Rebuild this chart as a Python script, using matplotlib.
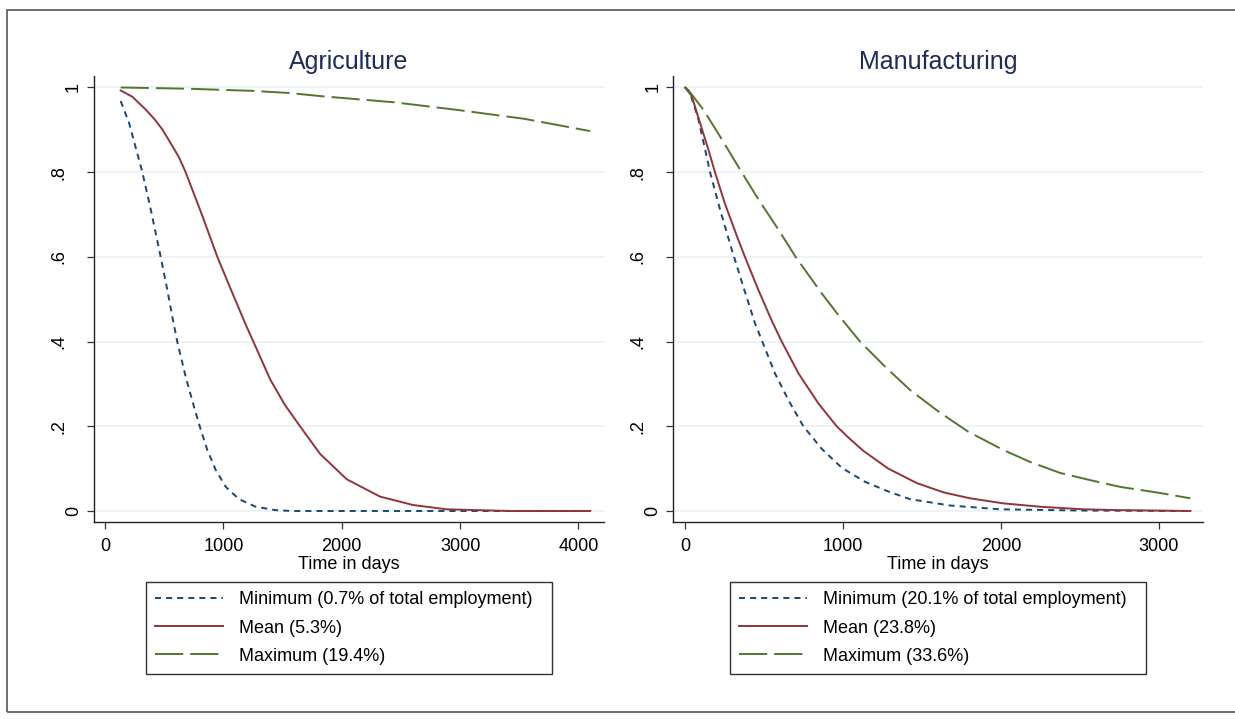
import matplotlib
matplotlib.use("Agg")
import matplotlib.pyplot as plt
from matplotlib.patches import Rectangle

plt.rcParams['font.family'] = ['Liberation Sans', 'DejaVu Sans']

# Agriculture panel
agr_min_x = [131, 201, 314, 385, 469, 525, 567, 609, 680, 751, 799, 863, 934, 1019, 1131, 1272, 1441, 1582, 2000, 3000, 4100]
agr_min_y = [.968, .917, .8, .712, .6, .522, .459, .4, .317, .246, .2, .144, .097, .057, .028, .010, .002, 0, 0, 0, 0]
agr_mean_x = [131, 230, 342, 420, 483, 550, 624, 680, 821, 948, 1055, 1188, 1252, 1396, 1520, 1647, 1816, 2041, 2323, 2604, 2887, 3422, 4100]
agr_mean_y = [.993, .978, .948, .924, .901, .87, .835, .8, .697, .6, .528, .44, .4, .31, .25, .2, .135, .075, .034, .014, .004, 0, 0]
agr_max_x = [131, 710, 1243, 1554, 1843, 2443, 2977, 3543, 4100]
agr_max_y = [1.0, .997, .992, .987, .979, .965, .947, .926, .897]

# Manufacturing panel
man_min_x = [0, 31, 84, 126, 158, 221, 295, 375, 443, 489, 569, 654, 749, 865, 992, 1139, 1287, 1424, 1677, 1994, 2522, 3200]
man_min_y = [1, .988, .925, .855, .8, .712, .618, .522, .443, .4, .325, .262, .2, .147, .102, .069, .046, .028, .013, .004, .001, 0]
man_mean_x = [0, 42, 94, 147, 189, 253, 327, 379, 464, 548, 612, 718, 844, 960, 1044, 1129, 1287, 1467, 1636, 1804, 2016, 2250, 2522, 2754, 3200]
man_mean_y = [1, .980, .917, .854, .8, .725, .65, .6, .522, .45, .4, .325, .254, .2, .17, .142, .1, .066, .044, .030, .018, .010, .004, .002, 0]
man_max_x = [0, 20, 115, 232, 358, 464, 590, 700, 865, 970, 1108, 1266, 1424, 1604, 1794, 2016, 2184, 2374, 2564, 2754, 3000, 3200]
man_max_y = [1, .994, .948, .878, .8, .736, .665, .6, .514, .463, .4, .341, .286, .235, .187, .144, .116, .090, .073, .057, .043, .03]

titles = ["Agriculture", "Manufacturing"]
labels_agr = ["Minimum (0.7% of total employment)", "Mean (5.3%)", "Maximum (19.4%)"]
labels_man = ["Minimum (20.1% of total employment)", "Mean (23.8%)", "Maximum (33.6%)"]
yticks = [0, .2, .4, .6, .8, 1]
ytick_labels = ["0", ".2", ".4", ".6", ".8", "1"]

BLUE = '#1a476f'
RED = '#90353b'
GREEN = '#55752f'
GRID = '#eaf2f3'

W, H = 1235, 719
fig = plt.figure(figsize=(W / 100, H / 100), dpi=100)
fig.patch.set_facecolor('white')

# outer frame (right side runs off the image)
fig.patches.append(Rectangle((6.7 / W, 1 - 712.3 / H), (1245 - 6.7) / W, (712.3 - 10) / H,
                             transform=fig.transFigure, fill=False,
                             edgecolor='#555555', lw=1.2))

def panel(px_left, px_right, xlim, xticks, data, labels, title, leg_px):
    ax = fig.add_axes([px_left / W, 1 - 522.3 / H, (px_right - px_left) / W, 446.3 / H])
    ax.set_xlim(*xlim)
    ax.set_ylim(-0.0267, 1.0271)
    for y in yticks:
        ax.axhline(y, color=GRID, lw=1.2, zorder=0)
    (x1, y1), (x2, y2), (x3, y3) = data
    l1, = ax.plot(x1, y1, color=BLUE, lw=1.4, dashes=(3.1, 2.6))
    l2, = ax.plot(x2, y2, color=RED, lw=1.4)
    l3, = ax.plot(x3, y3, color=GREEN, lw=1.4, dashes=(14.5, 3.6))
    ax.spines['top'].set_visible(False)
    ax.spines['right'].set_visible(False)
    for s in ('left', 'bottom'):
        ax.spines[s].set_linewidth(1.0)
        ax.spines[s].set_color('#222222')
    ax.set_xticks(xticks)
    ax.set_xticklabels([str(t) for t in xticks])
    ax.set_yticks(yticks)
    ax.set_yticklabels([])
    # rotated y labels, the ones with a leading dot sit further left
    for y, lab in zip(yticks, ytick_labels):
        off = 19.1 if lab.startswith('.') else 8.4
        ax.annotate(lab, xy=(0, y), xycoords=('axes fraction', 'data'),
                    xytext=(-off, 0), textcoords='offset points',
                    rotation=90, ha='right', va='center', fontsize=13)
    ax.tick_params(axis='both', labelsize=13, length=5, width=0.9,
                   direction='out', color='#333333')
    ax.tick_params(axis='x', pad=6.5)
    ax.set_xlabel("Time in days", fontsize=13, labelpad=0.5)
    ax.set_title(title, fontsize=18, color='#1f2d56', pad=5)
    lx0, lx1 = leg_px
    leg = fig.legend([l1, l2, l3], labels, loc='upper left',
                     bbox_to_anchor=(lx0 / W, 1 - 672.3 / H, (lx1 - lx0) / W, 90 / H),
                     mode='expand', fontsize=13, frameon=True, fancybox=False,
                     edgecolor='black', handlelength=3.78, handletextpad=0.87,
                     borderpad=0.5, labelspacing=0.62, borderaxespad=0)
    leg.get_frame().set_linewidth(1.0)
    return ax

panel(93.7, 603.8, (-97.2, 4214.7), [0, 1000, 2000, 3000, 4000],
      [(agr_min_x, agr_min_y), (agr_mean_x, agr_mean_y), (agr_max_x, agr_max_y)],
      labels_agr, titles[0], (146, 551.6))
panel(673.3, 1202.7, (-74.7, 3278), [0, 1000, 2000, 3000],
      [(man_min_x, man_min_y), (man_mean_x, man_mean_y), (man_max_x, man_max_y)],
      labels_man, titles[1], (730, 1146))

fig.savefig("out.png", dpi=100)
